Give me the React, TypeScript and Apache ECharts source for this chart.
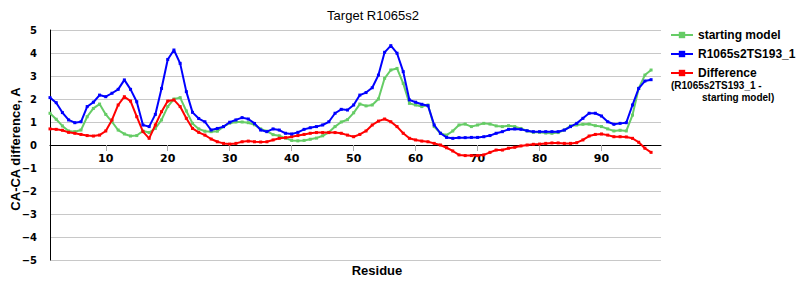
import React, { useEffect, useRef } from "react";
import * as echarts from "echarts";

const residues: number[] = Array.from({ length: 98 }, (_, i) => i + 1);

const startingModel: number[] = [
  1.38, 1.12, 0.83, 0.61, 0.58, 0.65, 1.23, 1.59, 1.78, 1.33,
  1.01, 0.65, 0.48, 0.39, 0.41, 0.61, 0.54, 0.72, 1.09, 1.67,
  2.0, 2.06, 1.48, 0.94, 0.7, 0.6, 0.58, 0.6, 0.8, 0.95,
  1.0, 1.0, 0.97, 0.88, 0.7, 0.6, 0.45, 0.4, 0.3, 0.2,
  0.18, 0.2, 0.25, 0.3, 0.4, 0.55, 0.8, 1.0, 1.1, 1.4,
  1.78, 1.7, 1.74, 2.0, 2.9, 3.26, 3.33, 2.68, 1.81, 1.74,
  1.67, 1.74, 0.8, 0.51, 0.43, 0.61, 0.87, 0.91, 0.8, 0.87,
  0.94, 0.91, 0.83, 0.8, 0.84, 0.8, 0.72, 0.61, 0.55, 0.55,
  0.52, 0.51, 0.54, 0.65, 0.83, 0.87, 0.9, 0.91, 0.84, 0.8,
  0.7, 0.61, 0.64, 0.61, 1.3, 2.46, 3.04, 3.26,
];

const modelTS193: number[] = [
  2.06, 1.84, 1.41, 1.09, 0.97, 1.01, 1.67, 1.86, 2.17, 2.1,
  2.25, 2.42, 2.83, 2.42, 1.88, 0.87, 0.8, 1.33, 2.46, 3.72,
  4.13, 3.55, 2.32, 1.42, 1.15, 1.01, 0.65, 0.72, 0.8, 0.99,
  1.09, 1.19, 1.13, 0.94, 0.65, 0.58, 0.7, 0.65, 0.51, 0.48,
  0.55, 0.68, 0.75, 0.8, 0.87, 1.01, 1.38, 1.55, 1.52, 1.74,
  2.17, 2.28, 2.49, 3.04, 4.03, 4.32, 3.99, 3.19, 1.96, 1.86,
  1.77, 1.71, 0.87, 0.51, 0.33, 0.29, 0.32, 0.32, 0.33, 0.33,
  0.36, 0.41, 0.51, 0.58, 0.68, 0.7, 0.68, 0.62, 0.58, 0.58,
  0.58, 0.58, 0.58, 0.65, 0.8, 0.94, 1.16, 1.38, 1.38, 1.26,
  1.01, 0.9, 0.94, 0.97, 1.74, 2.46, 2.78, 2.84,
];

const difference: number[] = [
  0.7, 0.68, 0.64, 0.55, 0.51, 0.46, 0.41, 0.39, 0.43, 0.61,
  1.09, 1.74, 2.1, 1.91, 1.23, 0.58, 0.29, 0.87, 1.45, 1.91,
  1.96, 1.67, 1.16, 0.72, 0.55, 0.43, 0.26, 0.14, 0.07, 0.04,
  0.07, 0.14, 0.17, 0.14, 0.13, 0.14, 0.22, 0.29, 0.32, 0.36,
  0.41, 0.46, 0.51, 0.54, 0.54, 0.54, 0.54, 0.51, 0.43, 0.36,
  0.46, 0.61, 0.87, 1.04, 1.13, 1.01, 0.8, 0.51, 0.29, 0.22,
  0.17, 0.14, 0.07, 0.0, -0.12, -0.26, -0.43, -0.46, -0.46, -0.46,
  -0.43, -0.32, -0.22, -0.22, -0.14, -0.1, -0.04, 0.0, 0.03, 0.04,
  0.07, 0.09, 0.09, 0.07, 0.07, 0.1, 0.22, 0.39, 0.46, 0.48,
  0.43, 0.36, 0.36, 0.35, 0.29, 0.12, -0.14, -0.32,
];

const xTickValues: number[] = [10, 20, 30, 40, 50, 60, 70, 80, 90];

const seriesNames: string[] = ["starting model", "R1065s2TS193_1", "Difference"];
const seriesColors: string[] = ["#66cc66", "#0000ff", "#ff0000"];

const pairs = (vals: number[]) => residues.map((r, i) => [r, vals[i]]);

const boldSans = {
  fontFamily: "Liberation Sans",
  fontWeight: "bold" as const,
  fill: "#000",
};

export default function App() {
  const ref = useRef<HTMLDivElement>(null);

  useEffect(() => {
    if (!ref.current) return;
    const chart = echarts.init(ref.current, null, { renderer: "svg" });
    const allData = [startingModel, modelTS193, difference];
    chart.setOption({
      animation: false,
      backgroundColor: "#ffffff",
      title: {
        text: "Target R1065s2",
        left: 368,
        top: 4,
        textAlign: "center",
        textStyle: {
          fontFamily: "Liberation Sans",
          fontSize: 13,
          fontWeight: "normal",
          color: "#000",
        },
      },
      legend: {
        orient: "vertical",
        left: 670,
        top: 28,
        padding: 0,
        itemWidth: 22,
        itemHeight: 8,
        itemGap: 5,
        data: seriesNames,
        textStyle: {
          fontFamily: "Liberation Sans",
          fontSize: 12,
          fontWeight: "bold",
          color: "#000",
          lineHeight: 14,
        },
      },
      grid: { left: 50, right: 139, top: 30, bottom: 40, outerBoundsMode: "none", containLabel: false },
      xAxis: {
        type: "value",
        min: 1,
        max: 99.6,
        position: "bottom",
        offset: -115,
        axisLine: { onZero: false, lineStyle: { color: "#000", width: 1 } },
        axisTick: {
          show: true,
          customValues: xTickValues,
          length: 6,
          lineStyle: { color: "#aaaaaa" },
        },
        axisLabel: {
          customValues: xTickValues,
          margin: 8,
          fontFamily: "DejaVu Sans",
          fontSize: 11,
          fontWeight: "bold",
          color: "#000",
        },
        splitLine: { show: false },
      },
      yAxis: {
        type: "value",
        min: -5,
        max: 5,
        interval: 1,
        axisLine: { show: true, onZero: false, lineStyle: { color: "#000", width: 1 } },
        axisTick: { show: false },
        axisLabel: {
          margin: 13,
          fontFamily: "DejaVu Sans",
          fontSize: 10,
          fontWeight: "bold",
          color: "#000",
          formatter: (v: number) => String(v).replace("-", "\u2212"),
        },
        splitLine: { show: true, lineStyle: { color: "#c8c8c8", width: 1 } },
      },
      series: seriesNames.map((name, i) => ({
        name,
        type: "line",
        data: pairs(allData[i]),
        symbol: "rect",
        symbolSize: 3,
        showSymbol: true,
        lineStyle: { color: seriesColors[i], width: 2 },
        itemStyle: { color: seriesColors[i] },
        z: i === 2 ? 3 : i === 1 ? 4 : 2,
      })),
      graphic: [
        {
          type: "text",
          x: 377,
          y: 270,
          style: {
            ...boldSans,
            text: "Residue",
            fontSize: 13,
            align: "center",
            verticalAlign: "middle",
          },
        },
        {
          type: "text",
          x: 15,
          y: 149,
          rotation: Math.PI / 2,
          style: {
            ...boldSans,
            text: "CA-CA difference, A",
            fontSize: 13,
            align: "center",
            verticalAlign: "middle",
          },
        },
        {
          type: "text",
          left: 671,
          top: 80,
          style: {
            ...boldSans,
            text: "(R1065s2TS193_1 -",
            fontSize: 10,
          },
        },
        {
          type: "text",
          left: 702,
          top: 92,
          style: {
            ...boldSans,
            text: "starting model)",
            fontSize: 10,
          },
        },
      ],
    });
    return () => chart.dispose();
  }, []);

  return (
    <div
      ref={ref}
      style={{ position: "fixed", left: 0, top: 0, width: 800, height: 300 }}
    />
  );
}
